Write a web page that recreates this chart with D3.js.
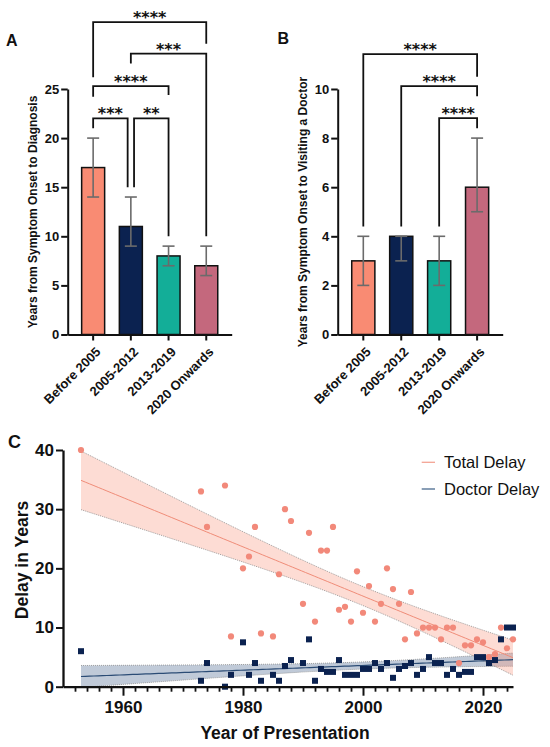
<!DOCTYPE html>
<html><head><meta charset="utf-8">
<script src="https://cdn.jsdelivr.net/npm/d3@7"></script>
<style>
html,body{margin:0;padding:0;background:#fff;}
svg{display:block;}
text{font-family:"Liberation Sans",Arial,sans-serif;}
</style></head>
<body>
<svg id="chart" width="550" height="747"></svg>
<script>
// ---------- DATA ----------
const categories = ["Before 2005", "2005-2012", "2013-2019", "2020 Onwards"];
const barColors = ["#F98B73", "#0B2250", "#13AE98", "#C4687D"];

const diagnosisMedian = [17, 11, 8, 7];
const diagnosisLow = [14, 9, 7, 6];
const diagnosisHigh = [20, 14, 9, 9];
const diagnosisTicks = [0, 5, 10, 15, 20, 25];

const doctorMedian = [3, 4, 3, 6];
const doctorLow = [2, 3, 2, 5];
const doctorHigh = [4, 4, 4, 8];
const doctorTicks = [0, 2, 4, 6, 8, 10];

// comparisons: group indices, bracket level and leg ends (data units), label
const diagnosisComparisons = [
  {a: 0, b: 3, level: 31.8, endA: 26.2, endB: 29.6, label: "****"},
  {a: 1, b: 3, level: 28.6, endA: 27.6, endB: 10.0, label: "***"},
  {a: 0, b: 2, level: 25.3, endA: 24.2, endB: 24.4, label: "****"},
  {a: 0, b: 1, level: 22.0, endA: 21.0, endB: 15.0, label: "***"},
  {a: 1, b: 2, level: 22.0, endA: 15.0, endB: 10.0, label: "**"}
];
const doctorComparisons = [
  {a: 0, b: 3, level: 11.42, endA: 4.4, endB: 10.5, label: "****"},
  {a: 1, b: 3, level: 10.12, endA: 4.4, endB: 9.7, label: "****"},
  {a: 2, b: 3, level: 8.81, endA: 4.4, endB: 8.4, label: "****"}
];

const presentationYears = [1953,1973,1974,1977,1978,1980,1981,1982,1983,1985,1986,1987,1988,1990,1991,1992,1993,1994,1995,1996,1997,1998,1999,2000,2001,2002,2003,2004,2005,2006,2007,2008,2009,2010,2011,2012,2013,2014,2015,2016,2017,2018,2019,2020,2021,2022,2023,2024,2025];
const totalDelay = [40,33,27,34,8.5,20,22,27,9,8.5,19,30,28,14,26,11,23,23,27,13,13.5,11,19.5,12.5,17,11,14,20,16.5,14,8,16,9,10,10,10,8,10,10,4,7,7,8,7.5,5,5.5,10,6.5,8];
const doctorDelay = [6,1,4,0,2,7.5,2,4,1,2,1,3.5,4.5,4,8,1,3,2.5,2.5,4.5,2,2,2,3,3,4,3,4,1.5,3,3.5,4,2,3,5,4,4,2,3,2,2.5,2.5,5,5,4,4.5,8,10,10];
const yearTicks = [1960, 1980, 2000, 2020];
const delayTicks = [0, 10, 20, 30, 40];
const seriesNames = ["Total Delay", "Doctor Delay"];

// ---------- DRAW ----------
const svg = d3.select("#chart");

function barPanel(opt) {
  const g = svg.append("g");
  const x = d3.scaleBand().domain(categories).range([opt.x0, opt.x1]).paddingInner(0.39).paddingOuter(0.37);
  const y = d3.scaleLinear().domain([0, opt.ymax]).range([334.5, 89]);

  // bars
  g.selectAll("rect.bar").data(categories).join("rect")
    .attr("x", d => x(d)).attr("width", x.bandwidth())
    .attr("y", (d, i) => y(opt.med[i])).attr("height", (d, i) => y(0) - y(opt.med[i]))
    .attr("fill", (d, i) => barColors[i]).attr("stroke", "#111").attr("stroke-width", 1.5);

  // error bars
  const eb = g.selectAll("g.eb").data(categories).join("g").attr("stroke", "#6b6b6b").attr("stroke-width", 1.6);
  eb.append("line").attr("x1", d => x(d) + x.bandwidth() / 2).attr("x2", d => x(d) + x.bandwidth() / 2)
    .attr("y1", (d, i) => y(opt.lo[i])).attr("y2", (d, i) => y(opt.hi[i]));
  eb.append("line").attr("x1", d => x(d) + x.bandwidth() / 2 - 6).attr("x2", d => x(d) + x.bandwidth() / 2 + 6)
    .attr("y1", (d, i) => y(opt.lo[i])).attr("y2", (d, i) => y(opt.lo[i]));
  eb.append("line").attr("x1", d => x(d) + x.bandwidth() / 2 - 6).attr("x2", d => x(d) + x.bandwidth() / 2 + 6)
    .attr("y1", (d, i) => y(opt.hi[i])).attr("y2", (d, i) => y(opt.hi[i]));

  // axes
  const ya = g.append("g").attr("transform", `translate(${opt.x0},0)`)
    .call(d3.axisLeft(y).tickValues(opt.ticks).tickSize(6.5).tickSizeOuter(0).tickPadding(2));
  const xa = g.append("g").attr("transform", `translate(0,${y(0)})`)
    .call(d3.axisBottom(x).tickSize(6).tickSizeOuter(0));
  [ya, xa].forEach(a => {
    a.select(".domain").attr("stroke", "#111").attr("stroke-width", 2);
    a.selectAll(".tick line").attr("stroke", "#111").attr("stroke-width", 2);
    a.selectAll("text").attr("fill", "#111").style("font-weight", "bold")
      .style("font-family", "'Liberation Sans',Arial,sans-serif");
  });
  ya.selectAll("text").style("font-size", "13px");
  xa.selectAll("text").style("font-size", "13px")
    .attr("y", 0).attr("x", 0).attr("dy", "0.35em")
    .attr("transform", "translate(5,15) rotate(-45)").style("text-anchor", "end");

  // y title
  g.append("text").attr("transform", `translate(${opt.titleX},212) rotate(-90)`)
    .attr("text-anchor", "middle").style("font-size", "12px").style("font-weight", "bold").attr("fill", "#111")
    .text(opt.ytitle);

  // letter
  g.append("text").attr("x", opt.letterX).attr("y", opt.letterY).style("font-size", "16px").style("font-weight", "bold")
    .attr("fill", "#111").text(opt.letter);

  // comparisons
  const cx = i => x(categories[i]) + x.bandwidth() / 2;
  opt.comps.forEach(c => {
    let xa1 = cx(c.a), xb1 = cx(c.b);
    // shift when another bracket at the same level shares an endpoint
    opt.comps.forEach(o => {
      if (o === c || o.level !== c.level) return;
      if (o.a === c.b) xb1 -= 3.2;
      if (o.b === c.a) xa1 += 3.2;
    });
    g.append("path")
      .attr("d", `M${xa1},${y(c.endA)}V${y(c.level)}H${xb1}V${y(c.endB)}`)
      .attr("fill", "none").attr("stroke", "#111").attr("stroke-width", 1.8);
    g.append("text").attr("x", (xa1 + xb1) / 2).attr("y", y(c.level) + 1)
      .attr("text-anchor", "middle").style("font-family", "'DejaVu Sans',sans-serif")
      .style("font-size", "16px").style("font-weight", "bold").attr("fill", "#111").text(c.label);
  });
}

barPanel({x0: 67.7, x1: 231.7, ymax: 25, med: diagnosisMedian, lo: diagnosisLow, hi: diagnosisHigh,
  ticks: diagnosisTicks, ytitle: "Years from Symptom Onset to Diagnosis", titleX: 37,
  letter: "A", letterX: 6, letterY: 45.5, comps: diagnosisComparisons});
barPanel({x0: 337.7, x1: 502.7, ymax: 10, med: doctorMedian, lo: doctorLow, hi: doctorHigh,
  ticks: doctorTicks, ytitle: "Years from Symptom Onset to Visiting a Doctor", titleX: 307,
  letter: "B", letterX: 277.5, letterY: 44, comps: doctorComparisons});

// ---------- Panel C ----------
const gc = svg.append("g");
const xC = d3.scaleLinear().domain([1950, 2025]).range([63, 513]);
const yC = d3.scaleLinear().domain([0, 40]).range([686.7, 450]);

function fit(xs, ys) {
  const n = xs.length, mx = d3.mean(xs), my = d3.mean(ys);
  let sxx = 0, sxy = 0;
  xs.forEach((v, i) => { sxx += (v - mx) ** 2; sxy += (v - mx) * (ys[i] - my); });
  const b = sxy / sxx, a = my - b * mx;
  let sse = 0; xs.forEach((v, i) => { sse += (ys[i] - (a + b * v)) ** 2; });
  const s = Math.sqrt(sse / (n - 2)), t = 2.012;
  const xmin = d3.min(xs), xmax = d3.max(xs);
  const pts = d3.range(0, 101).map(k => {
    const xv = xmin + (xmax - xmin) * k / 100;
    const yh = a + b * xv;
    const se = s * Math.sqrt(1 / n + (xv - mx) ** 2 / sxx);
    return {x: xv, y: yh, lo: yh - t * se, hi: yh + t * se};
  });
  return pts;
}
const fitTotal = fit(presentationYears, totalDelay);
const fitDoctor = fit(presentationYears, doctorDelay);

const area = d3.area().x(d => xC(d.x)).y0(d => yC(d.lo)).y1(d => yC(d.hi));
const line = d3.line().x(d => xC(d.x)).y(d => yC(d.y));
const edgeLo = d3.line().x(d => xC(d.x)).y(d => yC(d.lo));
const edgeHi = d3.line().x(d => xC(d.x)).y(d => yC(d.hi));

[[fitDoctor, "#3A5A85", 0.32], [fitTotal, "#F8917A", 0.32]].forEach(([f, col, op]) => {
  gc.append("path").attr("d", area(f)).attr("fill", col).attr("fill-opacity", op);
  [edgeLo, edgeHi].forEach(e => gc.append("path").attr("d", e(f)).attr("fill", "none")
    .attr("stroke", "#8a8a8a").attr("stroke-width", 0.8).attr("stroke-dasharray", "1,1"));
});
gc.append("path").attr("d", line(fitTotal)).attr("fill", "none").attr("stroke", "#F08C78").attr("stroke-width", 1);
gc.append("path").attr("d", line(fitDoctor)).attr("fill", "none").attr("stroke", "#2B4C75").attr("stroke-width", 1.2);

gc.selectAll("circle.tot").data(presentationYears).join("circle")
  .attr("cx", d => xC(d)).attr("cy", (d, i) => yC(totalDelay[i])).attr("r", 3.1).attr("fill", "#F2897A");
gc.selectAll("rect.doc").data(presentationYears).join("rect")
  .attr("x", d => xC(d) - 3).attr("y", (d, i) => yC(doctorDelay[i]) - 3)
  .attr("width", 6).attr("height", 6).attr("fill", "#0B2250");

// axes C
const xaC = gc.append("g").attr("transform", `translate(0,${yC(0)})`)
  .call(d3.axisBottom(xC).tickValues(yearTicks).tickFormat(d3.format("d")).tickSize(9).tickSizeOuter(0).tickPadding(5));
gc.append("g").attr("transform", `translate(0,${yC(0)})`)
  .call(d3.axisBottom(xC).tickValues(d3.range(1952, 2025, 2).filter(v => !yearTicks.includes(v))).tickSize(5).tickFormat(""))
  .call(a => a.select(".domain").remove())
  .selectAll("line").attr("stroke", "#111").attr("stroke-width", 1.8);
const yaC = gc.append("g").attr("transform", `translate(${xC(1950)},0)`)
  .call(d3.axisLeft(yC).tickValues(delayTicks).tickSize(7).tickSizeOuter(0).tickPadding(2));
[xaC, yaC].forEach(a => {
  a.select(".domain").attr("stroke", "#111").attr("stroke-width", 2.3);
  a.selectAll(".tick line").attr("stroke", "#111").attr("stroke-width", 2);
  a.selectAll("text").attr("fill", "#111").style("font-size", "17px").style("font-weight", "bold")
    .style("font-family", "'Liberation Sans',Arial,sans-serif");
});

gc.append("text").attr("x", 285).attr("y", 739).attr("text-anchor", "middle")
  .style("font-size", "17.5px").style("font-weight", "bold").attr("fill", "#111").text("Year of Presentation");
gc.append("text").attr("transform", "translate(28,560) rotate(-90)").attr("text-anchor", "middle")
  .style("font-size", "17.5px").style("font-weight", "bold").attr("fill", "#111").text("Delay in Years");
gc.append("text").attr("x", 8).attr("y", 447.5).style("font-size", "18px").style("font-weight", "bold")
  .attr("fill", "#111").text("C");

// legend
const legColors = ["#F4A494", "#4A6A8E"];
seriesNames.forEach((s, i) => {
  const ly = 462.3 + i * 26.7;
  gc.append("line").attr("x1", 421.7).attr("x2", 435).attr("y1", ly).attr("y2", ly)
    .attr("stroke", legColors[i]).attr("stroke-width", 1.3);
  gc.append("text").attr("x", 444).attr("y", ly + 5.8).style("font-size", "16.5px").attr("fill", "#111").text(s);
});
</script>
</body></html>
